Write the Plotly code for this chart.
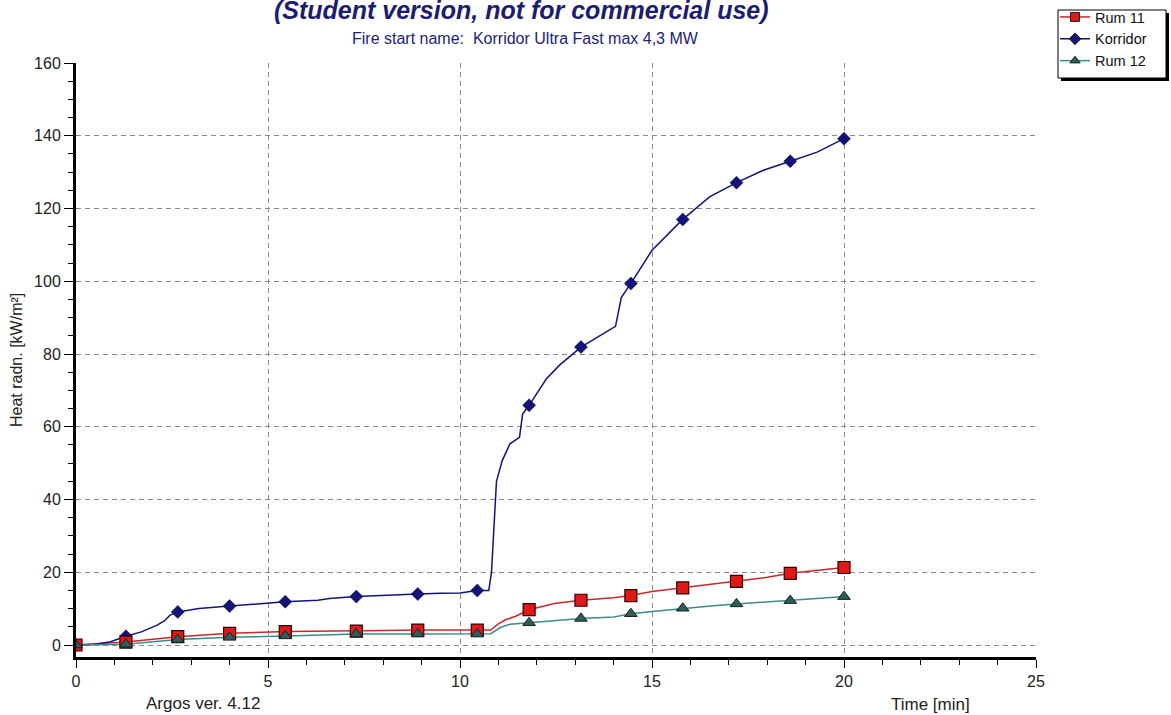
import plotly.graph_objects as go

# Sample times (min) at which each series carries a marker
marker_t = [0, 1.3, 2.65, 4.0, 5.45, 7.3, 8.9, 10.45, 11.8, 13.15, 14.45, 15.8, 17.2, 18.6, 20.0]

# Heat radiation (kW/m2) at the marker times
korridor_mark = [0, 2.4, 9.1, 10.7, 11.9, 13.3, 14.0, 15.0, 65.9, 81.9, 99.4, 117.0, 127.1, 133.0, 139.2]
rum11_mark = [0, 0.8, 2.3, 3.2, 3.7, 3.8, 4.1, 4.1, 9.7, 12.3, 13.6, 15.7, 17.5, 19.7, 21.3]
rum12_mark = [0, 0.2, 1.5, 2.1, 2.5, 3.0, 3.0, 3.0, 6.1, 7.3, 8.6, 10.1, 11.3, 12.2, 13.3]

# Full simulated curves
korridor_t = [0, 0.5, 0.9, 1.3, 1.7, 2.1, 2.3, 2.45, 2.65, 3.2, 4.0, 4.9, 5.45, 6.3, 6.6,
              7.3, 7.85, 8.5, 8.9, 9.5, 10.0, 10.45, 10.75, 10.82, 10.88, 10.95, 11.1,
              11.3, 11.55, 11.63, 11.8, 12.25, 12.6, 13.15, 14.05, 14.2, 14.45, 15.0,
              15.8, 16.5, 17.2, 17.9, 18.6, 19.3, 20.0]
korridor_y = [0, 0.2, 0.9, 2.4, 3.6, 5.4, 6.6, 8.2, 9.1, 10.0, 10.7, 11.5, 11.9, 12.3, 12.8,
              13.3, 13.6, 13.9, 14.0, 14.2, 14.3, 15.0, 15.0, 20.0, 32.0, 45.0, 50.7,
              55.3, 57.1, 63.5, 65.9, 73.2, 77.0, 81.9, 87.6, 95.5, 99.4, 108.5,
              117.0, 123.2, 127.1, 130.5, 133.0, 135.5, 139.2]

rum11_t = [0, 1.3, 2.65, 4.0, 5.5, 7.3, 8.0, 8.9, 10.45, 10.8, 11.0, 11.2, 11.45, 11.8,
           12.45, 13.15, 14.0, 14.45, 15.0, 15.8, 16.6, 17.2, 18.0, 18.6, 19.3, 20.0]
rum11_y = [0, 0.8, 2.3, 3.2, 3.7, 3.8, 4.0, 4.1, 4.1, 4.1, 5.8, 7.0, 7.9, 9.7,
           11.4, 12.3, 13.0, 13.6, 14.7, 15.7, 16.9, 17.5, 18.6, 19.7, 20.5, 21.3]

rum12_t = [0, 1.3, 2.65, 4.0, 5.5, 7.3, 8.9, 10.45, 10.8, 11.05, 11.3, 11.8, 13.15, 14.0,
           14.45, 15.0, 15.8, 16.6, 17.2, 18.0, 18.6, 19.3, 20.0]
rum12_y = [0, 0.2, 1.5, 2.1, 2.5, 3.0, 3.0, 3.0, 3.1, 4.8, 5.7, 6.1, 7.3, 7.7,
           8.6, 9.2, 10.1, 10.8, 11.3, 11.8, 12.2, 12.8, 13.3]

x_ticks = [0, 5, 10, 15, 20, 25]
y_ticks = [0, 20, 40, 60, 80, 100, 120, 140, 160]

RED_LINE, RED_FILL = "#c82828", "#e01818"
NAVY = "#141478"
TEAL_LINE, TEAL_FILL = "#3c8c8c", "#2e5e5a"
FONT = "Liberation Sans, Arial"

# plot-area geometry (pixels) used to place the frame and labels in paper units
W, H = 1171, 715
ML, MR, MT, MB = 76, 135, 63, 58
PW, PH = W - ML - MR, H - MT - MB


def px_x(p):
    return (p - ML) / PW


def px_y(p):
    return (H - MB - p) / PH


fig = go.Figure()

# curves
for t, y, c in [(rum11_t, rum11_y, RED_LINE), (korridor_t, korridor_y, NAVY), (rum12_t, rum12_y, TEAL_LINE)]:
    fig.add_trace(go.Scatter(x=t, y=y, mode="lines", line=dict(color=c, width=1.5),
                             showlegend=False, hoverinfo="skip"))

# markers
fig.add_trace(go.Scatter(x=marker_t, y=korridor_mark, mode="markers", showlegend=False,
                         marker=dict(symbol="diamond", size=10, color=NAVY,
                                     line=dict(color="#000040", width=0.5))))
fig.add_trace(go.Scatter(x=marker_t, y=rum11_mark, mode="markers", showlegend=False,
                         marker=dict(symbol="square", size=12, color=RED_FILL,
                                     line=dict(color="#300000", width=1.2))))
fig.add_trace(go.Scatter(x=marker_t, y=rum12_mark, mode="markers", showlegend=False,
                         marker=dict(symbol="triangle-up", size=11, color=TEAL_FILL,
                                     line=dict(color="#102020", width=1))))

# legend entries
for name, lc, mc, sym in [("Rum 11", RED_LINE, RED_FILL, "square"),
                          ("Korridor", NAVY, NAVY, "diamond"),
                          ("Rum 12", TEAL_LINE, TEAL_FILL, "triangle-up")]:
    fig.add_trace(go.Scatter(x=[None], y=[None], mode="lines+markers", name=name,
                             line=dict(color=lc, width=1.5),
                             marker=dict(symbol=sym, size=9, color=mc,
                                         line=dict(color="#202020", width=1))))

grid = dict(showgrid=True, gridcolor="#8a8a8a", gridwidth=1, griddash="5px,4px")
tickfont = dict(family=FONT, size=16, color="#222222")

fig.update_xaxes(range=[0, 25], tickvals=x_ticks, ticks="outside", ticklen=8, tickcolor="black",
                 showline=True, linecolor="black", linewidth=3, zeroline=False, tickfont=tickfont,
                 minor=dict(dtick=1, ticks="outside", ticklen=5, tickcolor="black", showgrid=False),
                 **grid)
fig.update_yaxes(range=[-3.3, 160], tickvals=y_ticks, ticks="outside", ticklen=9, tickcolor="black",
                 showline=True, linecolor="black", linewidth=3, zeroline=False, tickfont=tickfont,
                 minor=dict(dtick=5, ticks="outside", ticklen=5, tickcolor="black", showgrid=False),
                 **grid)

# legend frame with drop shadow
box_l, box_r, box_t, box_b = 1058, 1166, 10, 78
shapes = [
    dict(type="rect", xref="paper", yref="paper", layer="above",
         x0=px_x(box_l + 3), x1=px_x(box_r + 3), y0=px_y(box_b + 3), y1=px_y(box_t + 3),
         fillcolor="black", line=dict(width=0)),
    dict(type="rect", xref="paper", yref="paper", layer="above",
         x0=px_x(box_l), x1=px_x(box_r), y0=px_y(box_b), y1=px_y(box_t),
         fillcolor="white", line=dict(color="black", width=1)),
]

fig.update_layout(
    width=W, height=H,
    margin=dict(l=ML, r=MR, t=MT, b=MB, autoexpand=False),
    paper_bgcolor="white", plot_bgcolor="white",
    font=dict(family=FONT, color="#222222"),
    showlegend=True,
    shapes=shapes,
    legend=dict(x=px_x(1055), y=px_y(1), xanchor="left", yanchor="top",
                bgcolor="rgba(0,0,0,0)", borderwidth=0,
                font=dict(family=FONT, size=14.5, color="#111111"),
                itemwidth=30, tracegroupgap=0),
    annotations=[
        dict(text="<b><i>(Student version, not for commercial use)</i></b>", xref="paper", yref="paper",
             x=px_x(521), y=px_y(10), xanchor="center", yanchor="middle", showarrow=False,
             font=dict(family=FONT, size=25, color="#1c1c70")),
        dict(text="Fire start name:  Korridor Ultra Fast max 4,3 MW", xref="paper", yref="paper",
             x=px_x(525), y=px_y(39), xanchor="center", yanchor="middle", showarrow=False,
             font=dict(family=FONT, size=16, color="#22227a")),
        dict(text="Heat radn. [kW/m²]", xref="paper", yref="paper", x=px_x(16), y=0.5,
             xanchor="center", yanchor="middle", textangle=-90, showarrow=False,
             font=dict(family=FONT, size=16, color="#222222")),
        dict(text="Argos ver. 4.12", xref="paper", yref="paper", x=px_x(203), y=px_y(703),
             xanchor="center", yanchor="middle", showarrow=False,
             font=dict(family=FONT, size=17, color="#222222")),
        dict(text="Time [min]", xref="paper", yref="paper", x=px_x(930), y=px_y(704),
             xanchor="center", yanchor="middle", showarrow=False,
             font=dict(family=FONT, size=17, color="#222222")),
    ],
)

fig.write_html("out.html")
